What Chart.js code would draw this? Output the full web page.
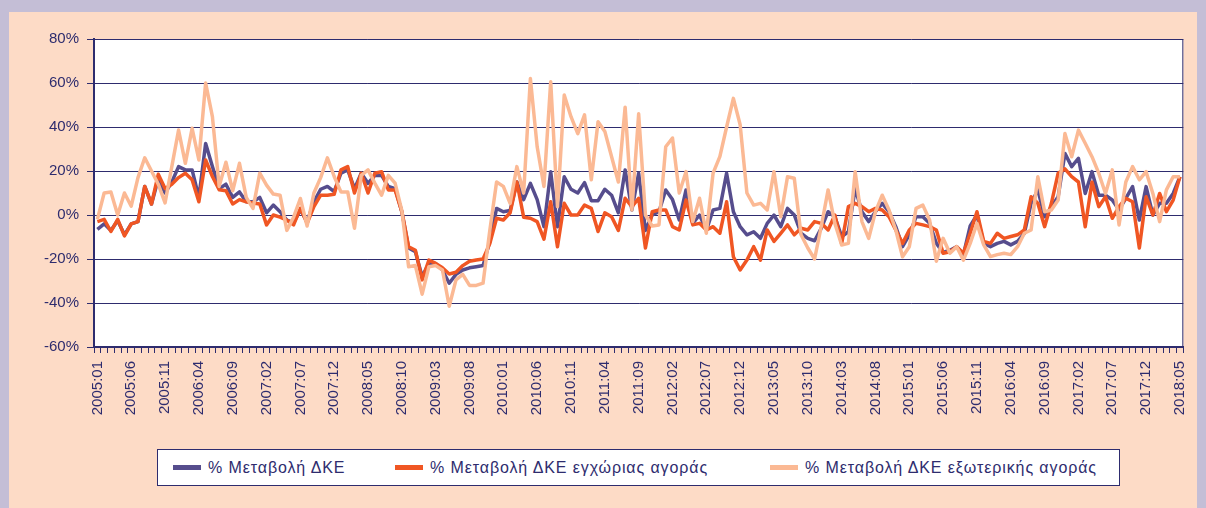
<!DOCTYPE html>
<html>
<head>
<meta charset="utf-8">
<script src="https://cdn.jsdelivr.net/npm/chart.js@4"></script>
<style>
  body { margin: 0; background: #c4bed6; }
  #wrap { position: relative; width: 1206px; height: 508px; overflow: hidden; }
  #panel { position: absolute; left: 9px; top: 12px; width: 1188px; height: 496px; background: #fddbc6; }
  #chart { position: absolute; left: 0; top: 0; }
  #legend { position: absolute; left: 157px; top: 449px; width: 963px; height: 37px; background: #fff; border: 1px solid #2e2c6e; box-sizing: border-box; }
  .item { position: absolute; top: 0; height: 35px; display: flex; align-items: center; font: 16px "Liberation Sans", Arial, sans-serif; letter-spacing: 0.9px; color: #2e2c6e; white-space: nowrap; }
  .item i { display: inline-block; width: 28px; height: 5px; margin-right: 7px; }
</style>
</head>
<body>
<div id="wrap">
  <div id="panel"></div>
  <canvas id="chart" width="1206" height="508"></canvas>
  <div id="legend"></div>
</div>
<script>
// monthly categories 2005:01 - 2018:05
var categories = [];
for (var y = 2005; y <= 2018; y++) {
    for (var m = 1; m <= 12; m++) {
        if (y == 2018 && m > 5) break;
        categories.push(y + ':' + (m < 10 ? '0' + m : m));
    }
}

var tickLabels = ['2005:01','2005:06','2005:11','2006:04','2006:09','2007:02','2007:07','2007:12',
    '2008:05','2008:10','2009:03','2009:08','2010:01','2010:06','2010:11','2011:04','2011:09',
    '2012:02','2012:07','2012:12','2013:05','2013:10','2014:03','2014:08','2015:01','2015:06',
    '2015:11','2016:04','2016:09','2017:02','2017:07','2017:12','2018:05'];

var yTicks = [-60, -40, -20, 0, 20, 40, 60, 80];

var seriesNames = ['% Μεταβολή ΔΚΕ', '% Μεταβολή ΔΚΕ εγχώριας αγοράς', '% Μεταβολή ΔΚΕ εξωτερικής αγοράς'];

var totalChange = [
    -6.5, -4, -7, -2.5, -9, -4, -3, 13, 5, 16.5,
    10, 15, 22, 20.5, 20.5, 8, 32.5, 22, 12, 14,
    8, 10.5, 6, 6, 8, 1, 4.5, 1.5, -2.3, -3.5,
    2.3, -3, 6, 11.7, 13, 10.6, 19, 20.5, 12, 19,
    14.4, 18, 18, 13, 12, 1.5, -15, -16.7, -28, -22,
    -22, -25, -31, -27, -25, -24, -23.5, -23, -12, 3,
    1.5, 2, 15, 7, 14.4, 7, -5.3, 19.7, -5.3, 17.4,
    11.7, 10, 14.7, 6.5, 6.5, 11.7, 9, 1, 20.5, 2.3,
    19, -7, 0, 1.5, 11.4, 7, -2.3, 11.4, -3.8, 0,
    -7, 2.3, 3, 19, 1.5, -5.3, -9, -7.6, -10.6, -3.8,
    0, -5.3, 3, 0, -8.3, -10.6, -11.7, -6, 1.5, -0.8,
    -9.8, -7.6, 12, 1.5, -3, 1.5, 5.3, 1.5, -5.3, -14.4,
    -9, -0.8, -0.8, -3.8, -12.9, -17, -16, -14.4, -18, -5,
    0, -12.9, -14.4, -12.9, -12, -13.6, -12, -8.3, 5.3, 11.4,
    -0.8, 3.8, 8.3, 28, 22, 25.8, 9.8, 19.7, 9, 9,
    6.8, 2.3, 7.6, 12.9, -2.3, 12.9, 0, 5.3, 5.3, 9.8,
    17.4
];

var domesticChange = [
    -3, -2, -7.5, -2, -9.5, -4, -3, 13, 5, 18.5,
    12, 14, 17, 19, 16, 6, 25, 17.5, 11.5, 11,
    5, 7, 6, 5.5, 5, -4.5, 0, -1, -2.3, -4.5,
    3, -3.8, 3.8, 9, 9, 9.4, 20.5, 22, 10, 19,
    10, 19, 19.7, 11.4, 11.4, 1.5, -14.4, -16, -29.5, -20.5,
    -22, -24, -26.8, -26, -23, -21, -20.5, -20, -13, -1.5,
    -2.3, 1, 15, -1, -1.5, -3, -11, 6, -14.4, 5.3,
    0, 0, 4.5, 3, -7.5, 1, -0.8, -7, 7.6, 3.8,
    7.6, -15, 1.5, 2.3, 2.3, -5.3, -6.8, 6.8, -4.5, -3.8,
    -6.8, -5.3, -8.3, 6, -19, -25, -20.5, -14.4, -20.5, -6.8,
    -12, -8.3, -4.5, -9, -6, -6.8, -3, -3.8, -6.8, 0,
    -13, 3.8, 5.3, 3.8, 1.5, 3, 2.3, -0.8, -6.8, -12.9,
    -6.8, -3.8, -4.5, -5.3, -6.8, -17.4, -16.7, -14.4, -17.4, -8.3,
    1.5, -12, -12.9, -8.3, -10.6, -9.8, -9, -6.8, 8.3, 5.3,
    -5.3, 5.3, 19, 21, 17.4, 15, -5.3, 15, 3.8, 8.3,
    -1.5, 3.8, 7.6, 6, -15, 8.3, 0, 9.8, 1.5, 6.8,
    17.4
];

var foreignChange = [
    -2, 10, 10.5, 0, 10, 4, 17, 26, 20, 14,
    5.5, 22, 38.6, 23.5, 39.4, 25, 60, 44.7, 13, 24,
    11, 23.5, 8, 3, 19, 13.6, 9.5, 9, -7, -1,
    7.5, -5, 10, 17, 26, 17.5, 10.5, 10.5, -6, 18,
    20.5, 14.5, 9, 18, 14.5, 2, -23.5, -23, -36, -23.5,
    -23, -25, -41.5, -29.5, -27, -32, -32, -31, -7, 15,
    13, 5.3, 22, 10, 62, 31, 13, 60.6, 3.8, 54.5,
    44.7, 37, 45.5, 16, 42.4, 38, 26.5, 15, 49, 2.3,
    46, 0, -5, -4.5, 31, 35, 10, 19.7, -3, 7.6,
    -8.3, 19, 26.5, 40, 53, 41, 10, 4.5, 5.3, 2.3,
    19.7, -0.8, 17.4, 16.7, -9, -15, -20, -5, 11.4, -3.8,
    -13.6, -12.9, 19.7, -3, -10.6, 1.5, 9, 2.3, -6.8, -19,
    -14.4, 3, 4.5, -2.3, -21, -10.6, -17.4, -14.4, -20.5, -12.9,
    -3.8, -13.6, -18.9, -18, -17.4, -18, -14.4, -8.3, -6.8, 17.4,
    1.5, 2.3, 6.8, 37, 26.5, 38.6, 32.6, 26.5, 19, 9.8,
    20.5, -4.5, 15, 22, 16, 19.7, 9.8, -3, 11.4, 17.4,
    17.4
];

var colors = ['#564d8d', '#f05623', '#fbb994'];
var navy = '#2e2c6e';

var plotFrame = {
    id: 'plotFrame',
    beforeDraw: function(chart) {
        var a = chart.chartArea, ctx = chart.ctx;
        ctx.save();
        ctx.fillStyle = '#ffffff';
        ctx.fillRect(a.left, a.top, a.right - a.left, a.bottom - a.top);
        ctx.restore();
    },
    afterDraw: function(chart) {
        var a = chart.chartArea, ctx = chart.ctx;
        ctx.save();
        ctx.strokeStyle = navy;
        ctx.lineWidth = 1;
        ctx.beginPath();
        ctx.moveTo(a.right - 0.5, a.top);
        ctx.lineTo(a.right - 0.5, a.bottom);
        ctx.stroke();
        ctx.restore();
    }
};

var chart = new Chart(document.getElementById('chart'), {
    type: 'line',
    data: {
        labels: categories,
        datasets: [
            { label: seriesNames[0], data: totalChange, borderColor: colors[0], backgroundColor: colors[0], order: 3 },
            { label: seriesNames[1], data: domesticChange, borderColor: colors[1], backgroundColor: colors[1], order: 2 },
            { label: seriesNames[2], data: foreignChange, borderColor: colors[2], backgroundColor: colors[2], order: 1 }
        ]
    },
    options: {
        responsive: false,
        animation: false,
        devicePixelRatio: 1,
        layout: { padding: { left: 0, top: 39, right: 22, bottom: 0 } },
        elements: {
            line: { borderWidth: 3.5, tension: 0, borderJoinStyle: 'round' },
            point: { radius: 0 }
        },
        plugins: {
            legend: { display: false },
            tooltip: { enabled: false }
        },
        scales: {
            x: {
                offset: true,
                afterFit: function(scale){ scale.height = 161; },
                grid: { offset: true, drawOnChartArea: false, color: navy, tickLength: 6, tickWidth: 1 },
                border: { color: navy, width: 2 },
                ticks: {
                    autoSkip: false, maxRotation: 90, minRotation: 90, padding: 8,
                    color: navy, font: { family: '"Liberation Sans", Arial, sans-serif', size: 15 },
                    callback: function(v, i){ return tickLabels.indexOf(categories[i]) >= 0 ? categories[i] : ''; }
                }
            },
            y: {
                min: yTicks[0], max: yTicks[yTicks.length - 1],
                afterFit: function(scale){ scale.width = 94; },
                afterBuildTicks: function(scale){ scale.ticks = yTicks.map(function(v){ return { value: v }; }); },
                grid: { color: navy, lineWidth: 1, tickLength: 7 },
                border: { color: navy, width: 2 },
                ticks: {
                    padding: 8, color: navy,
                    font: { family: '"Liberation Sans", Arial, sans-serif', size: 15 },
                    callback: function(v){ return v + '%'; }
                }
            }
        }
    },
    plugins: [plotFrame]
});

// legend built from the chart's datasets
var legendX = [15, 237, 612];
var legend = document.getElementById('legend');
chart.data.datasets.forEach(function(ds, i){
    var item = document.createElement('div');
    item.className = 'item';
    item.style.left = legendX[i] + 'px';
    item.innerHTML = '<i style="background:' + ds.borderColor + '"></i>' + ds.label;
    legend.appendChild(item);
});
</script>
</body>
</html>
